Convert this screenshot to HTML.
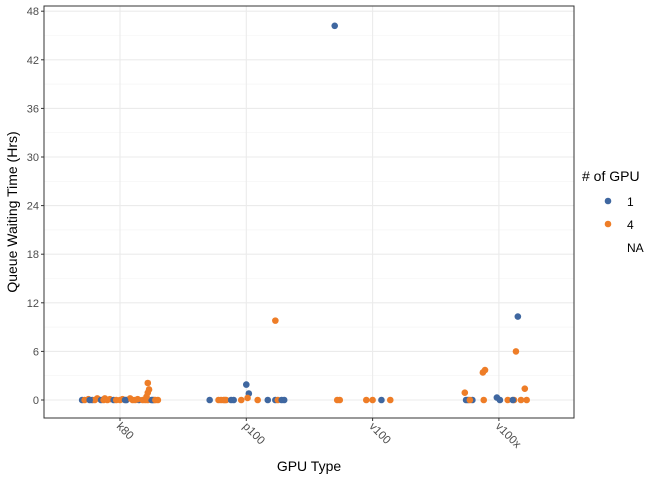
<!DOCTYPE html>
<html><head><meta charset="utf-8">
<style>
body{margin:0;background:#fff;}
svg text{font-family:"Liberation Sans",sans-serif;}
</style></head>
<body>
<svg id="chart" width="672" height="480" xmlns="http://www.w3.org/2000/svg">
<rect width="672" height="480" fill="#fff"/>
<g id="grid"></g>
<g id="points"></g>
<rect x="44" y="6" width="530" height="412" fill="none" stroke="#333" stroke-width="1"/>
<g id="axes"></g>
<text x="309" y="471" font-size="14" text-anchor="middle" fill="#000">GPU Type</text>
<text transform="translate(17,212) rotate(-90)" font-size="14" text-anchor="middle" fill="#000">Queue Waiting Time (Hrs)</text>
<g>
<text x="582" y="181" font-size="14" fill="#000"># of GPU</text>
<g><circle cx="608" cy="201" r="3.3" fill="#3F67A0"/><text x="627" y="206" font-size="12" fill="#000">1</text></g>
<g><circle cx="608" cy="224" r="3.3" fill="#EE7D27"/><text x="627" y="229" font-size="12" fill="#000">4</text></g>
<g><text x="627" y="252" font-size="12" fill="#000">NA</text></g>
</g>
</svg>
<script>
const categories=["k80","p100","v100","v100x"];
const yTicks=[0,6,12,18,24,30,36,42,48];
// points: category index, jitter (category units), value (hrs), group
const ptCat=[0,0,0,0,0,0,0,0,0,0,0,0,0,0,0,0,0,0,0,0,0,0,0,0,0,0,0,0,0,0,0,0,0,0,0,
1,1,1,1,1,1,1,1,1,1,1,1,1,1,1,1,1,1,1,
2,2,2,2,2,2,2,
3,3,3,3,3,3,3,3,3,3,3,3,3,3,3,3,3,3];
const ptJit=[-0.3,-0.28,-0.25,-0.22,-0.2,-0.18,-0.15,-0.13,-0.1,-0.08,-0.05,-0.03,0,0.02,0.05,0.08,0.1,0.12,0.15,0.18,0.2,0.22,0.25,0.27,0.3,0.22,0.23,0.22,0.21,-0.24,-0.12,0.04,0.14,0.26,0.28,
-0.29,-0.22,-0.2,-0.18,-0.16,-0.12,-0.1,-0.04,0.09,0.17,0.23,0.25,0.3,0.0,0.02,0.01,0.23,-0.17,0.28,
-0.3,-0.28,-0.05,0.0,0.07,0.14,-0.26,
-0.26,-0.245,-0.21,-0.27,-0.23,-0.127,-0.11,-0.12,-0.016,0.008,0.07,0.12,0.135,0.15,0.175,0.205,0.22,0.11];
const ptVal=[0,0,0.1,0,0,0.2,0,0,0,0.1,0,0,0,0.1,0,0.2,0,0,0,0,0,0,0,0,0,2.1,1.3,0.9,0.4,0,0.2,0,0.1,0,0,
0,0,0,0,0,0,0,0,0,0,0,0,0,1.9,0.8,0.25,9.8,0,0,
46.2,0,0,0,0,0,0,
0,0,0,0.9,0,3.4,3.7,0,0.3,0,0,0,6.0,10.3,0,1.4,0,0];
const ptGrp=[1,4,4,1,4,4,1,4,4,4,1,4,4,4,1,4,4,4,1,4,4,4,1,4,4,4,4,4,4,1,4,1,4,1,4,
1,4,4,4,4,1,1,4,4,1,1,4,1,1,1,4,4,4,1,
1,4,4,4,1,4,4,
1,1,1,4,4,4,4,4,1,1,4,4,4,1,4,4,4,1];
const NS="http://www.w3.org/2000/svg";
const X0=120,XS=126.3,Y0=400,YS=8.1;
const xs=(c,j)=>X0+(c+j)*XS;
const ys=v=>Y0-v*YS;
const grid=document.getElementById('grid'),axes=document.getElementById('axes'),pts=document.getElementById('points');
function mk(t,a,p){const e=document.createElementNS(NS,t);for(const k in a)e.setAttribute(k,a[k]);p.appendChild(e);return e;}
for(let i=0;i<yTicks.length;i++){
  const y=ys(yTicks[i]);
  const g=mk('line',{x1:44,x2:574,y1:y,y2:y,stroke:'#ebebeb','stroke-width':1.1},grid);
  
  
  if(i<yTicks.length-1){const ym=ys((yTicks[i]+yTicks[i+1])/2);
    const gm=mk('line',{x1:44,x2:574,y1:ym,y2:ym,stroke:'#f3f3f3','stroke-width':0.6},grid);
    
    }
  mk('line',{x1:41,x2:44,y1:y,y2:y,stroke:'#333'},axes);
  const t=mk('text',{x:39,y:y+4,'font-size':11,'text-anchor':'end',fill:'#4d4d4d'},axes);
  t.textContent=yTicks[i];
  
  
}
for(let c=0;c<categories.length;c++){
  const x=xs(c,0);
  const g=mk('line',{x1:x,x2:x,y1:6,y2:418,stroke:'#ebebeb','stroke-width':1.1},grid);
  
  
  mk('line',{x1:x,x2:x,y1:418,y2:421,stroke:'#333'},axes);
  const t=mk('text',{x:0,y:0,'font-size':11.5,fill:'#4d4d4d',transform:`translate(${x-4},${427}) rotate(45)`},axes);
  t.textContent=categories[c];
  
  
}
for(let i=0;i<ptCat.length;i++){
  const p=mk('circle',{cx:xs(ptCat[i],ptJit[i]),cy:ys(ptVal[i]),r:3.3,fill:ptGrp[i]===1?'#3F67A0':'#EE7D27'},pts);
  
  
}
</script>
</body></html>
